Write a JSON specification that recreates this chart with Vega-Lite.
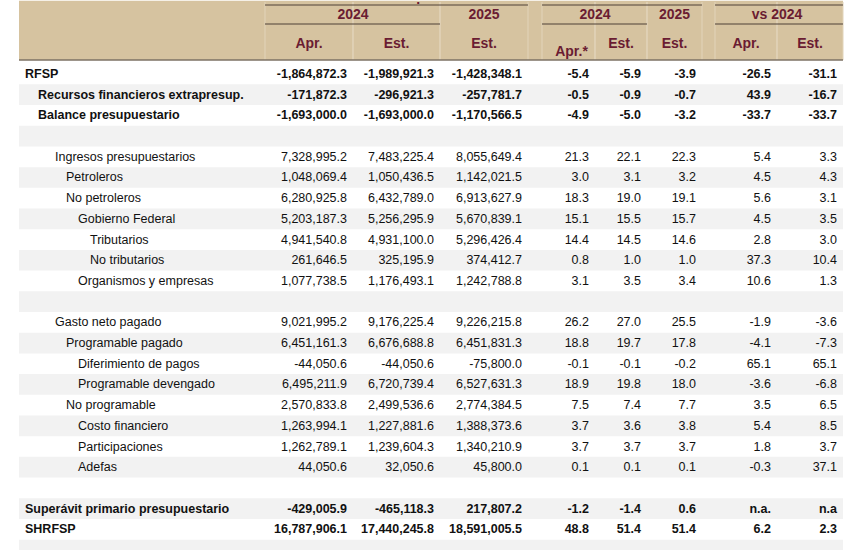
{
  "$schema": "https://vega.github.io/schema/vega-lite/v6.json",
  "width": 850,
  "height": 550,
  "autosize": {"type": "fit", "contains": "padding"},
  "padding": 0,
  "background": "white",
  "config": {"view": {"stroke": null}},
  "resolve": {"scale": {"x": "independent"}},
  "datasets": {
    "columns": [
      {"key": "apr24", "sub": "Apr.", "x0": 0, "x1": 1},
      {"key": "est24", "sub": "Est.", "x0": 1, "x1": 2},
      {"key": "est25", "sub": "Est.", "x0": 2, "x1": 3},
      {"key": "pApr24", "sub": "Apr.*", "x0": 4, "x1": 5},
      {"key": "pEst24", "sub": "Est.", "x0": 5, "x1": 6},
      {"key": "pEst25", "sub": "Est.", "x0": 6, "x1": 7},
      {"key": "vApr", "sub": "Apr.", "x0": 8, "x1": 9},
      {"key": "vEst", "sub": "Est.", "x0": 9, "x1": 10}
    ],
    "groups": [
      {"label": "Millones de pesos", "tier": "title", "x0": 0, "x1": 3},
      {"label": "% del PIB", "tier": "title", "x0": 4, "x1": 7},
      {"label": "Var. % real", "tier": "title", "x0": 8, "x1": 10},
      {"label": "2024", "tier": "year", "x0": 0, "x1": 2},
      {"label": "2025", "tier": "year", "x0": 2, "x1": 3},
      {"label": "2024", "tier": "year", "x0": 4, "x1": 6},
      {"label": "2025", "tier": "year", "x0": 6, "x1": 7},
      {"label": "vs 2024", "tier": "year", "x0": 8, "x1": 10}
    ],
    "rows": [
      {"r": 0, "label": "RFSP", "depth": 0, "apr24": -1864872.3, "est24": -1989921.3, "est25": -1428348.1, "pApr24": -5.4, "pEst24": -5.9, "pEst25": -3.9, "vApr": -26.5, "vEst": -31.1},
      {"r": 1, "label": "Recursos financieros extrapresup.", "depth": 1, "apr24": -171872.3, "est24": -296921.3, "est25": -257781.7, "pApr24": -0.5, "pEst24": -0.9, "pEst25": -0.7, "vApr": 43.9, "vEst": -16.7},
      {"r": 2, "label": "Balance presupuestario", "depth": 1, "apr24": -1693000.0, "est24": -1693000.0, "est25": -1170566.5, "pApr24": -4.9, "pEst24": -5.0, "pEst25": -3.2, "vApr": -33.7, "vEst": -33.7},
      {"r": 3},
      {"r": 4, "label": "Ingresos presupuestarios", "depth": 2, "apr24": 7328995.2, "est24": 7483225.4, "est25": 8055649.4, "pApr24": 21.3, "pEst24": 22.1, "pEst25": 22.3, "vApr": 5.4, "vEst": 3.3},
      {"r": 5, "label": "Petroleros", "depth": 3, "apr24": 1048069.4, "est24": 1050436.5, "est25": 1142021.5, "pApr24": 3.0, "pEst24": 3.1, "pEst25": 3.2, "vApr": 4.5, "vEst": 4.3},
      {"r": 6, "label": "No petroleros", "depth": 3, "apr24": 6280925.8, "est24": 6432789.0, "est25": 6913627.9, "pApr24": 18.3, "pEst24": 19.0, "pEst25": 19.1, "vApr": 5.6, "vEst": 3.1},
      {"r": 7, "label": "Gobierno Federal", "depth": 4, "apr24": 5203187.3, "est24": 5256295.9, "est25": 5670839.1, "pApr24": 15.1, "pEst24": 15.5, "pEst25": 15.7, "vApr": 4.5, "vEst": 3.5},
      {"r": 8, "label": "Tributarios", "depth": 5, "apr24": 4941540.8, "est24": 4931100.0, "est25": 5296426.4, "pApr24": 14.4, "pEst24": 14.5, "pEst25": 14.6, "vApr": 2.8, "vEst": 3.0},
      {"r": 9, "label": "No tributarios", "depth": 5, "apr24": 261646.5, "est24": 325195.9, "est25": 374412.7, "pApr24": 0.8, "pEst24": 1.0, "pEst25": 1.0, "vApr": 37.3, "vEst": 10.4},
      {"r": 10, "label": "Organismos y empresas", "depth": 4, "apr24": 1077738.5, "est24": 1176493.1, "est25": 1242788.8, "pApr24": 3.1, "pEst24": 3.5, "pEst25": 3.4, "vApr": 10.6, "vEst": 1.3},
      {"r": 11},
      {"r": 12, "label": "Gasto neto pagado", "depth": 2, "apr24": 9021995.2, "est24": 9176225.4, "est25": 9226215.8, "pApr24": 26.2, "pEst24": 27.0, "pEst25": 25.5, "vApr": -1.9, "vEst": -3.6},
      {"r": 13, "label": "Programable pagado", "depth": 3, "apr24": 6451161.3, "est24": 6676688.8, "est25": 6451831.3, "pApr24": 18.8, "pEst24": 19.7, "pEst25": 17.8, "vApr": -4.1, "vEst": -7.3},
      {"r": 14, "label": "Diferimiento de pagos", "depth": 4, "apr24": -44050.6, "est24": -44050.6, "est25": -75800.0, "pApr24": -0.1, "pEst24": -0.1, "pEst25": -0.2, "vApr": 65.1, "vEst": 65.1},
      {"r": 15, "label": "Programable devengado", "depth": 4, "apr24": 6495211.9, "est24": 6720739.4, "est25": 6527631.3, "pApr24": 18.9, "pEst24": 19.8, "pEst25": 18.0, "vApr": -3.6, "vEst": -6.8},
      {"r": 16, "label": "No programable", "depth": 3, "apr24": 2570833.8, "est24": 2499536.6, "est25": 2774384.5, "pApr24": 7.5, "pEst24": 7.4, "pEst25": 7.7, "vApr": 3.5, "vEst": 6.5},
      {"r": 17, "label": "Costo financiero", "depth": 4, "apr24": 1263994.1, "est24": 1227881.6, "est25": 1388373.6, "pApr24": 3.7, "pEst24": 3.6, "pEst25": 3.8, "vApr": 5.4, "vEst": 8.5},
      {"r": 18, "label": "Participaciones", "depth": 4, "apr24": 1262789.1, "est24": 1239604.3, "est25": 1340210.9, "pApr24": 3.7, "pEst24": 3.7, "pEst25": 3.7, "vApr": 1.8, "vEst": 3.7},
      {"r": 19, "label": "Adefas", "depth": 4, "apr24": 44050.6, "est24": 32050.6, "est25": 45800.0, "pApr24": 0.1, "pEst24": 0.1, "pEst25": 0.1, "vApr": -0.3, "vEst": 37.1},
      {"r": 20},
      {"r": 21, "label": "Superávit primario presupuestario", "depth": 0, "apr24": -429005.9, "est24": -465118.3, "est25": 217807.2, "pApr24": -1.2, "pEst24": -1.4, "pEst25": 0.6, "vApr": "n.a.", "vEst": "n.a"},
      {"r": 22, "label": "SHRFSP", "depth": 0, "apr24": 16787906.1, "est24": 17440245.8, "est25": 18591005.5, "pApr24": 48.8, "pEst24": 51.4, "pEst25": 51.4, "vApr": 6.2, "vEst": 2.3},
      {"r": 23}
    ]
  },
  "layer": [
    {
      "data": {"values": [{"part": "header"}]},
      "mark": {"type": "rect", "color": "#d6c3a0"},
      "encoding": {
        "x": {"datum": -1, "type": "quantitative", "scale": {"domain": [-1, 0, 1, 2, 3, 4, 5, 6, 7, 8, 9, 10], "range": [19, 265, 353, 440, 528, 542, 595, 647, 702, 715, 777, 843], "nice": false, "zero": false}, "axis": null},
        "x2": {"datum": 10},
        "y": {"datum": -3.2, "type": "quantitative", "scale": {"domain": [-3, -2.5, -2, -1.5, -1, -0.5, 0, 23], "range": [0, 3, 13, 22, 42, 58, 72, 548], "nice": false, "zero": false}, "axis": null},
        "y2": {"datum": -0.5}
      }
    },
    {
      "data": {"name": "columns"},
      "transform": [{"fold": ["x0", "x1"], "as": ["edge", "slot"]}],
      "mark": {"type": "rule", "color": "#e2d4ba", "strokeWidth": 1},
      "encoding": {
        "x": {"field": "slot", "type": "quantitative", "scale": {"domain": [-1, 0, 1, 2, 3, 4, 5, 6, 7, 8, 9, 10], "range": [19, 265, 353, 440, 528, 542, 595, 647, 702, 715, 777, 843], "nice": false, "zero": false}, "axis": null},
        "y": {"datum": -3, "type": "quantitative", "scale": {"domain": [-3, -2.5, -2, -1.5, -1, -0.5, 0, 23], "range": [0, 3, 13, 22, 42, 58, 72, 548], "nice": false, "zero": false}, "axis": null},
        "y2": {"datum": -0.5}
      }
    },
    {
      "data": {"name": "rows"},
      "transform": [
        {"filter": "datum.r % 2 == 1"},
        {"calculate": "datum.r - 0.5", "as": "r0"},
        {"calculate": "datum.r + 0.5", "as": "r1"}
      ],
      "mark": {"type": "rect", "color": "#f2f2f2", "clip": true},
      "encoding": {
        "x": {"datum": -1, "type": "quantitative", "scale": {"domain": [-1, 0, 1, 2, 3, 4, 5, 6, 7, 8, 9, 10], "range": [19, 265, 353, 440, 528, 542, 595, 647, 702, 715, 777, 843], "nice": false, "zero": false}, "axis": null},
        "x2": {"datum": 10},
        "y": {"field": "r0", "type": "quantitative", "scale": {"domain": [-3, -2.5, -2, -1.5, -1, -0.5, 0, 23], "range": [0, 3, 13, 22, 42, 58, 72, 548], "nice": false, "zero": false}, "axis": null},
        "y2": {"field": "r1"}
      }
    },
    {
      "data": {"values": [{"part": "header rule"}]},
      "mark": {"type": "rule", "color": "#7d7264", "strokeWidth": 1.5},
      "encoding": {
        "x": {"datum": -1, "type": "quantitative", "scale": {"domain": [-1, 0, 1, 2, 3, 4, 5, 6, 7, 8, 9, 10], "range": [19, 265, 353, 440, 528, 542, 595, 647, 702, 715, 777, 843], "nice": false, "zero": false}, "axis": null},
        "x2": {"datum": 10},
        "y": {"datum": -0.5, "type": "quantitative", "scale": {"domain": [-3, -2.5, -2, -1.5, -1, -0.5, 0, 23], "range": [0, 3, 13, 22, 42, 58, 72, 548], "nice": false, "zero": false}, "axis": null}
      }
    },
    {
      "data": {"name": "groups"},
      "transform": [{"filter": "datum.tier == 'title'"}],
      "mark": {"type": "rule", "color": "#4e4036", "strokeWidth": 1},
      "encoding": {
        "x": {"field": "x0", "type": "quantitative", "scale": {"domain": [-1, 0, 1, 2, 3, 4, 5, 6, 7, 8, 9, 10], "range": [19, 265, 353, 440, 528, 542, 595, 647, 702, 715, 777, 843], "nice": false, "zero": false}, "axis": null},
        "x2": {"field": "x1"},
        "y": {"datum": -2.5, "type": "quantitative", "scale": {"domain": [-3, -2.5, -2, -1.5, -1, -0.5, 0, 23], "range": [0, 3, 13, 22, 42, 58, 72, 548], "nice": false, "zero": false}, "axis": null}
      }
    },
    {
      "data": {"name": "groups"},
      "transform": [{"filter": "datum.tier == 'year' && datum.x1 - datum.x0 > 1"}],
      "mark": {"type": "rule", "color": "#4e4036", "strokeWidth": 1},
      "encoding": {
        "x": {"field": "x0", "type": "quantitative", "scale": {"domain": [-1, 0, 1, 2, 3, 4, 5, 6, 7, 8, 9, 10], "range": [19, 265, 353, 440, 528, 542, 595, 647, 702, 715, 777, 843], "nice": false, "zero": false}, "axis": null},
        "x2": {"field": "x1"},
        "y": {"datum": -1.5, "type": "quantitative", "scale": {"domain": [-3, -2.5, -2, -1.5, -1, -0.5, 0, 23], "range": [0, 3, 13, 22, 42, 58, 72, 548], "nice": false, "zero": false}, "axis": null}
      }
    },
    {
      "data": {"name": "groups"},
      "transform": [
        {"filter": "datum.tier == 'title'"},
        {"calculate": "(datum.x0 + datum.x1) / 2", "as": "mid"}
      ],
      "mark": {"type": "text", "align": "center", "baseline": "alphabetic", "dy": -1, "clip": true, "font": "Liberation Sans", "fontSize": 14, "fontWeight": "bold", "color": "#6a1c32"},
      "encoding": {
        "x": {"field": "mid", "type": "quantitative", "scale": {"domain": [-1, 0, 1, 2, 3, 4, 5, 6, 7, 8, 9, 10], "range": [19, 265, 353, 440, 528, 542, 595, 647, 702, 715, 777, 843], "nice": false, "zero": false}, "axis": null},
        "y": {"datum": -3, "type": "quantitative", "scale": {"domain": [-3, -2.5, -2, -1.5, -1, -0.5, 0, 23], "range": [0, 3, 13, 22, 42, 58, 72, 548], "nice": false, "zero": false}, "axis": null},
        "text": {"field": "label"}
      }
    },
    {
      "data": {"name": "groups"},
      "transform": [
        {"filter": "datum.tier == 'year'"},
        {"calculate": "(datum.x0 + datum.x1) / 2", "as": "mid"}
      ],
      "mark": {"type": "text", "align": "center", "baseline": "middle", "font": "Liberation Sans", "fontSize": 14, "fontWeight": "bold", "color": "#6a1c32"},
      "encoding": {
        "x": {"field": "mid", "type": "quantitative", "scale": {"domain": [-1, 0, 1, 2, 3, 4, 5, 6, 7, 8, 9, 10], "range": [19, 265, 353, 440, 528, 542, 595, 647, 702, 715, 777, 843], "nice": false, "zero": false}, "axis": null},
        "y": {"datum": -2, "type": "quantitative", "scale": {"domain": [-3, -2.5, -2, -1.5, -1, -0.5, 0, 23], "range": [0, 3, 13, 22, 42, 58, 72, 548], "nice": false, "zero": false}, "axis": null},
        "text": {"field": "label"}
      }
    },
    {
      "data": {"name": "columns"},
      "transform": [
        {"filter": "datum.sub != 'Apr.*'"},
        {"calculate": "(datum.x0 + datum.x1) / 2", "as": "mid"}
      ],
      "mark": {"type": "text", "align": "center", "baseline": "middle", "font": "Liberation Sans", "fontSize": 14, "fontWeight": "bold", "color": "#6a1c32"},
      "encoding": {
        "x": {"field": "mid", "type": "quantitative", "scale": {"domain": [-1, 0, 1, 2, 3, 4, 5, 6, 7, 8, 9, 10], "range": [19, 265, 353, 440, 528, 542, 595, 647, 702, 715, 777, 843], "nice": false, "zero": false}, "axis": null},
        "y": {"datum": -1, "type": "quantitative", "scale": {"domain": [-3, -2.5, -2, -1.5, -1, -0.5, 0, 23], "range": [0, 3, 13, 22, 42, 58, 72, 548], "nice": false, "zero": false}, "axis": null},
        "text": {"field": "sub"}
      }
    },
    {
      "data": {"name": "columns"},
      "transform": [
        {"filter": "datum.sub == 'Apr.*'"},
        {"calculate": "(datum.x0 + datum.x1) / 2", "as": "mid"}
      ],
      "mark": {"type": "text", "align": "center", "baseline": "middle", "dy": 8, "dx": 3, "font": "Liberation Sans", "fontSize": 14, "fontWeight": "bold", "color": "#6a1c32"},
      "encoding": {
        "x": {"field": "mid", "type": "quantitative", "scale": {"domain": [-1, 0, 1, 2, 3, 4, 5, 6, 7, 8, 9, 10], "range": [19, 265, 353, 440, 528, 542, 595, 647, 702, 715, 777, 843], "nice": false, "zero": false}, "axis": null},
        "y": {"datum": -1, "type": "quantitative", "scale": {"domain": [-3, -2.5, -2, -1.5, -1, -0.5, 0, 23], "range": [0, 3, 13, 22, 42, 58, 72, 548], "nice": false, "zero": false}, "axis": null},
        "text": {"field": "sub"}
      }
    },
    {
      "data": {"name": "rows"},
      "transform": [{"filter": "isValid(datum.label) && datum.depth > 1"}],
      "mark": {"type": "text", "align": "left", "baseline": "middle", "font": "Liberation Sans", "fontSize": 12.5, "color": "#111111"},
      "encoding": {
        "x": {"field": "depth", "type": "quantitative", "scale": {"domain": [0, 1, 2, 3, 4, 5], "range": [25, 38, 55, 66, 78, 90], "nice": false, "zero": false}, "axis": null},
        "y": {"field": "r", "type": "quantitative", "scale": {"domain": [-3, -2.5, -2, -1.5, -1, -0.5, 0, 23], "range": [0, 3, 13, 22, 42, 58, 72, 548], "nice": false, "zero": false}, "axis": null},
        "text": {"field": "label"}
      }
    },
    {
      "data": {"name": "rows"},
      "transform": [{"filter": "isValid(datum.label) && datum.depth <= 1"}],
      "mark": {"type": "text", "align": "left", "baseline": "middle", "font": "Liberation Sans", "fontSize": 12.5, "fontWeight": "bold", "color": "#111111"},
      "encoding": {
        "x": {"field": "depth", "type": "quantitative", "scale": {"domain": [0, 1, 2, 3, 4, 5], "range": [25, 38, 55, 66, 78, 90], "nice": false, "zero": false}, "axis": null},
        "y": {"field": "r", "type": "quantitative", "scale": {"domain": [-3, -2.5, -2, -1.5, -1, -0.5, 0, 23], "range": [0, 3, 13, 22, 42, 58, 72, 548], "nice": false, "zero": false}, "axis": null},
        "text": {"field": "label"}
      }
    },
    {
      "data": {"name": "rows"},
      "transform": [
        {"filter": "isValid(datum.label) && datum.depth > 1"},
        {"fold": ["apr24", "est24", "est25", "pApr24", "pEst24", "pEst25", "vApr", "vEst"], "as": ["key", "value"]},
        {"filter": "isValid(datum.value)"},
        {"lookup": "key", "from": {"data": {"name": "columns"}, "key": "key", "fields": ["x1"]}},
        {"calculate": "isNumber(datum.value) ? replace(format(datum.value, ',.1f'), '\u2212', '-') : datum.value", "as": "txt"}
      ],
      "mark": {"type": "text", "align": "right", "baseline": "middle", "dx": -6, "font": "Liberation Sans", "fontSize": 12.5, "color": "#111111"},
      "encoding": {
        "x": {"field": "x1", "type": "quantitative", "scale": {"domain": [-1, 0, 1, 2, 3, 4, 5, 6, 7, 8, 9, 10], "range": [19, 265, 353, 440, 528, 542, 595, 647, 702, 715, 777, 843], "nice": false, "zero": false}, "axis": null},
        "y": {"field": "r", "type": "quantitative", "scale": {"domain": [-3, -2.5, -2, -1.5, -1, -0.5, 0, 23], "range": [0, 3, 13, 22, 42, 58, 72, 548], "nice": false, "zero": false}, "axis": null},
        "text": {"field": "txt"}
      }
    },
    {
      "data": {"name": "rows"},
      "transform": [
        {"filter": "isValid(datum.label) && datum.depth <= 1"},
        {"fold": ["apr24", "est24", "est25", "pApr24", "pEst24", "pEst25", "vApr", "vEst"], "as": ["key", "value"]},
        {"filter": "isValid(datum.value)"},
        {"lookup": "key", "from": {"data": {"name": "columns"}, "key": "key", "fields": ["x1"]}},
        {"calculate": "isNumber(datum.value) ? replace(format(datum.value, ',.1f'), '\u2212', '-') : datum.value", "as": "txt"}
      ],
      "mark": {"type": "text", "align": "right", "baseline": "middle", "dx": -6, "font": "Liberation Sans", "fontSize": 12.5, "fontWeight": "bold", "color": "#111111"},
      "encoding": {
        "x": {"field": "x1", "type": "quantitative", "scale": {"domain": [-1, 0, 1, 2, 3, 4, 5, 6, 7, 8, 9, 10], "range": [19, 265, 353, 440, 528, 542, 595, 647, 702, 715, 777, 843], "nice": false, "zero": false}, "axis": null},
        "y": {"field": "r", "type": "quantitative", "scale": {"domain": [-3, -2.5, -2, -1.5, -1, -0.5, 0, 23], "range": [0, 3, 13, 22, 42, 58, 72, 548], "nice": false, "zero": false}, "axis": null},
        "text": {"field": "txt"}
      }
    }
  ]
}
